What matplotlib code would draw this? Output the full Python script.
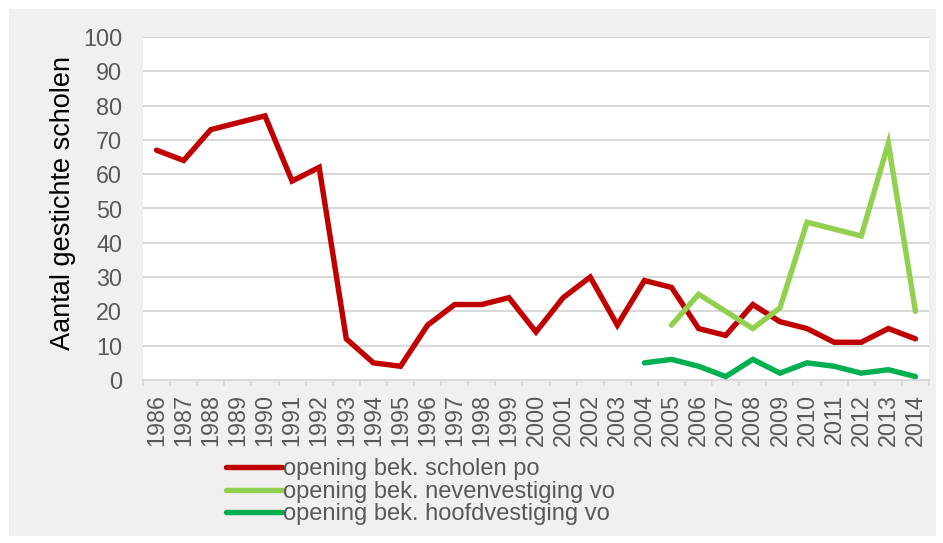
import matplotlib.pyplot as plt
from matplotlib.patches import Rectangle

plt.rcParams['font.family'] = ['Liberation Sans', 'DejaVu Sans']

# Gegevens
jaren = [str(j) for j in range(1986, 2015)]
scholen_po = [67, 64, 73, 75, 77, 58, 62, 12, 5, 4, 16, 22, 22, 24, 14,
              24, 30, 16, 29, 27, 15, 13, 22, 17, 15, 11, 11, 15, 12]
neven_jaren = jaren[19:]          # 2005 - 2014
nevenvestiging_vo = [16, 25, 20, 15, 21, 46, 44, 42, 69, 20]
hoofd_jaren = jaren[18:]          # 2004 - 2014
hoofdvestiging_vo = [5, 6, 4, 1, 6, 2, 5, 4, 2, 3, 1]

reeksen = [
    ("opening bek. scholen po", jaren, scholen_po, "#c00000"),
    ("opening bek. nevenvestiging vo", neven_jaren, nevenvestiging_vo, "#92d050"),
    ("opening bek. hoofdvestiging vo", hoofd_jaren, hoofdvestiging_vo, "#00b050"),
]

tekst = "#595959"
raster = "#d9d9d9"

fig = plt.figure(figsize=(9.43, 5.43), dpi=100, facecolor="white")
fig.patches.append(Rectangle((9 / 943, 7 / 543), 927 / 943, 527 / 543,
                             transform=fig.transFigure, facecolor="#f0f0f0",
                             edgecolor="none", zorder=-10))

ax = fig.add_axes([143 / 943, 1 - 380 / 543, 786 / 943, 343 / 543])
ax.set_facecolor("white")

pos = {j: i for i, j in enumerate(jaren)}
for naam, xs, ys, kleur in reeksen:
    ax.plot([pos[x] for x in xs], ys, color=kleur, lw=3.9, label=naam,
            solid_joinstyle="miter", solid_capstyle="round", zorder=3)

ax.set_xlim(-0.5, len(jaren) - 0.5)
ax.set_ylim(0, 100)
ax.set_yticks(range(0, 101, 10))
ax.grid(axis="y", color=raster, lw=1.5)
ax.set_axisbelow(True)

ax.set_xticks(range(len(jaren)))
ax.set_xticklabels(jaren, rotation=90, fontsize=16.8, color=tekst)
ax.set_xticks([i - 0.5 for i in range(len(jaren) + 1)], minor=True)
ax.tick_params(axis="x", which="major", length=0, pad=10)
ax.tick_params(axis="x", which="minor", length=4, width=1.2, color=raster)
ax.tick_params(axis="y", length=0, pad=15, labelsize=16.8, labelcolor=tekst)

for s in ["top", "right", "left"]:
    ax.spines[s].set_visible(False)
ax.spines["bottom"].set_color(raster)
ax.spines["bottom"].set_linewidth(1.5)

ax.set_ylabel("Aantal gestichte scholen", fontsize=19.5, color="black")
ax.yaxis.set_label_coords((76 - 143) / 786, (380 - 203) / 343)

fig.legend(loc="upper left", bbox_to_anchor=(217 / 943, 1 - 449 / 543),
           frameon=False, fontsize=17, labelcolor=tekst, handlelength=2.35,
           handletextpad=0.05, labelspacing=0.02, borderaxespad=0)

fig.savefig("out.png", dpi=100, facecolor=fig.get_facecolor())
